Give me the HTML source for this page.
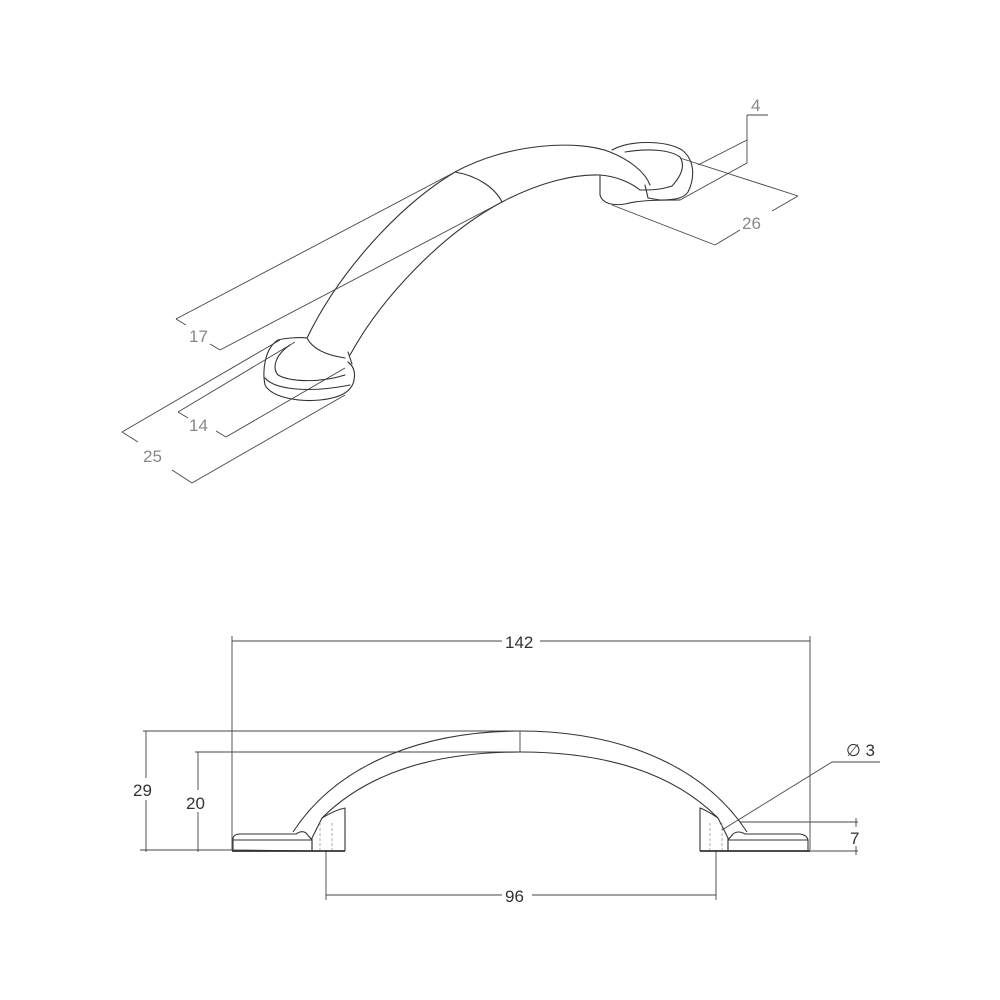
<!DOCTYPE html>
<html><head><meta charset="utf-8"><style>
html,body{margin:0;padding:0;background:#fff}
svg{display:block}
text{font-family:"Liberation Sans",sans-serif}
</style></head><body>
<svg width="1000" height="1000" viewBox="0 0 1000 1000" xmlns="http://www.w3.org/2000/svg">
<g fill="none" stroke="#333" stroke-width="1.1" stroke-linecap="round" stroke-linejoin="round">
<path d="M307,338 C340,270 400,205 455,172 C510,142 580,140 610,152 C630,160 645,172 650,185"/>
<path d="M350,355 C380,300 440,235 502,202 C540,182 575,174 600,175 C615,176 630,182 640,190"/>
<path d="M455,172 C478,176 495,188 502,202"/>
<path d="M278,340 C265,348 262,370 265,385 C272,398 300,402 320,400 C340,398 352,392 354,380 C356,370 352,365 348,362"/>
<path d="M278,340 C285,338 300,337 307,338 C312,348 325,355 345,358"/>
<path d="M290,345 C275,355 272,368 278,375 C290,382 320,383 345,375"/>
<path d="M265,378 C275,390 310,393 350,385"/>
<path d="M348,352 L352,364"/>
<path d="M612,150 C630,140 665,140 682,150 C695,160 695,178 688,192 C684,198 676,200 660,200 L648,198"/>
<path d="M600,175 L600,195 C602,203 612,206 625,204 C640,200 660,200 680,200"/>
<path d="M640,190 C650,190 660,190 672,186 C682,175 685,165 680,157 C670,150 650,148 625,152"/>
<path d="M645,185 L648,198"/>
</g>
<g fill="none" stroke="#444" stroke-width="0.9">
<line x1="176" y1="319" x2="455" y2="172"/>
<line x1="220" y1="350" x2="502" y2="202"/>
<line x1="176" y1="319" x2="186" y2="325"/>
<line x1="210" y1="344" x2="220" y2="350"/>
<line x1="178" y1="412" x2="295" y2="342"/>
<line x1="226" y1="437" x2="345" y2="368"/>
<line x1="178" y1="412" x2="188" y2="418"/>
<line x1="216" y1="431" x2="226" y2="437"/>
<line x1="122" y1="432" x2="280" y2="340"/>
<line x1="192" y1="483" x2="345" y2="395"/>
<line x1="122" y1="432" x2="138" y2="442"/>
<line x1="172" y1="470" x2="192" y2="483"/>
<line x1="680" y1="158" x2="798" y2="196"/>
<line x1="612" y1="205" x2="715" y2="245"/>
<line x1="715" y1="245" x2="740" y2="230"/>
<line x1="772" y1="211" x2="798" y2="196"/>
<line x1="698" y1="165" x2="747" y2="140"/>
<line x1="680" y1="200" x2="747" y2="163"/>
<line x1="747" y1="115" x2="747" y2="163"/>
<line x1="747" y1="115" x2="768" y2="115"/>
</g>
<g fill="#888" font-size="17">
<text x="189" y="342">17</text>
<text x="189" y="431">14</text>
<text x="143" y="462">25</text>
<text x="742" y="229">26</text>
<text x="751" y="111">4</text>
</g>
<g fill="none" stroke="#444" stroke-width="0.9">
<line x1="232" y1="641" x2="502" y2="641"/>
<line x1="540" y1="641" x2="810" y2="641"/>
<line x1="232" y1="636" x2="232" y2="850"/>
<line x1="810" y1="636" x2="810" y2="850"/>
<line x1="143" y1="731" x2="520" y2="731"/>
<line x1="146" y1="731" x2="146" y2="778"/>
<line x1="146" y1="800" x2="146" y2="852"/>
<line x1="140" y1="850" x2="232" y2="850"/>
<line x1="195" y1="752" x2="520" y2="752"/>
<line x1="198" y1="752" x2="198" y2="790"/>
<line x1="198" y1="812" x2="198" y2="852"/>
<line x1="520" y1="731" x2="520" y2="752"/>
<line x1="326" y1="850" x2="326" y2="900"/>
<line x1="716" y1="850" x2="716" y2="900"/>
<line x1="326" y1="895" x2="502" y2="895"/>
<line x1="532" y1="895" x2="716" y2="895"/>
<line x1="740" y1="822" x2="858" y2="822"/>
<line x1="810" y1="851" x2="858" y2="851"/>
<line x1="856" y1="818" x2="856" y2="827"/>
<line x1="856" y1="846" x2="856" y2="855"/>
<line x1="722" y1="830" x2="832" y2="762"/>
<line x1="832" y1="762" x2="880" y2="762"/>
</g>
<g fill="#333" font-size="17">
<text x="505" y="648">142</text>
<text x="133" y="796">29</text>
<text x="186" y="809">20</text>
<text x="505" y="902">96</text>
<text x="850" y="844">7</text>
<text x="846" y="756">∅ 3</text>
</g>
<g fill="none" stroke="#333" stroke-width="1.1" stroke-linejoin="round">
<path d="M293,832 C340,760 430,731 520,731 C610,731 700,760 747,832"/>
<path d="M322,818 C370,770 440,752 520,752 C600,752 670,770 718,818"/>
<path d="M233,850 L233,838 Q234,834 240,834 L296,834 Q302,830 306,833 L312,840 L312,851 Z"/>
<line x1="233" y1="840" x2="312" y2="840"/>
<path d="M312,851 L312,838 L322,818 Q335,810 345,808 L345,851"/>
<line x1="232" y1="851" x2="345" y2="851" stroke-width="1.8"/>
<path d="M808,851 L808,840 Q807,835 800,834 L745,834 Q738,830 733,834 L728,840 L728,851 Z"/>
<line x1="728" y1="840" x2="808" y2="840"/>
<path d="M728,851 L728,838 L718,818 Q706,810 700,808 L700,851"/>
<line x1="700" y1="851" x2="810" y2="851" stroke-width="1.8"/>
</g>
<g stroke="#999" stroke-width="0.8" stroke-dasharray="3,2">
<line x1="320" y1="823" x2="320" y2="850"/><line x1="332" y1="823" x2="332" y2="850"/>
<line x1="710" y1="823" x2="710" y2="850"/><line x1="722" y1="823" x2="722" y2="850"/>
</g>
</svg>
</body></html>
